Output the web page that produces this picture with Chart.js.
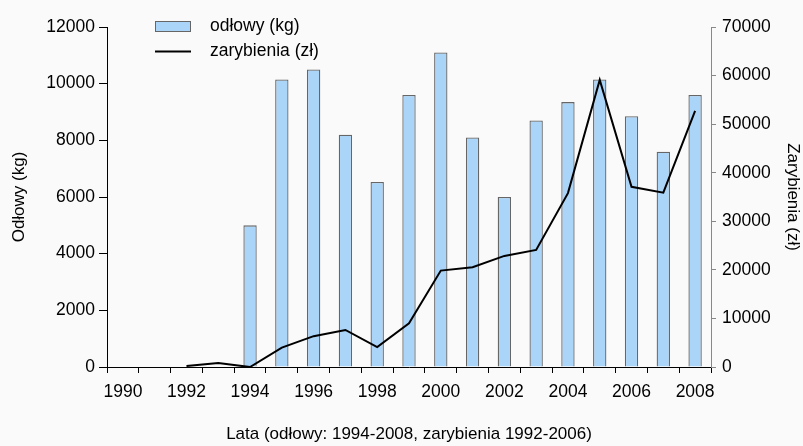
<!DOCTYPE html>
<html>
<head>
<meta charset="utf-8">
<script src="https://cdn.jsdelivr.net/npm/chart.js@4.4.1/dist/chart.umd.min.js"></script>
<style>
  html, body { margin: 0; padding: 0; background: #fafafa; }
  #wrap { width: 803px; height: 446px; position: relative; background: #fafafa; }
</style>
</head>
<body>
<div id="wrap"><canvas id="c"></canvas></div>
<script>
const years = ['1990','1991','1992','1993','1994','1995','1996','1997','1998','1999','2000','2001','2002','2003','2004','2005','2006','2007','2008'];
const odlowy = [null, null, null, null, 5000, 10150, 10500, 8200, 6530, 9600, 11100, 8100, 6000, 8700, 9350, 10150, 8850, 7600, 9600];
const zarybienia = [null, null, 200, 800, 0, 4000, 6350, 7620, 4100, 9000, 19850, 20540, 22870, 24100, 35800, 59100, 37100, 35900, 52750];
const leftTicks = [0, 2000, 4000, 6000, 8000, 10000, 12000];
const rightTicks = [0, 10000, 20000, 30000, 40000, 50000, 60000, 70000];
const seriesLabels = ['odłowy (kg)', 'zarybienia (zł)'];
const axisTitles = { x: 'Lata (odłowy: 1994-2008, zarybienia 1992-2006)', y: 'Odłowy (kg)', y2: 'Zarybienia (zł)' };

const FONT = "'Liberation Sans', Arial, Helvetica, sans-serif";
Chart.defaults.font.family = FONT;
Chart.defaults.color = '#000';

const BAR_FILL = '#aad4f8';
const BAR_EDGE = '#666666';

const legendPlugin = {
  id: 'insideLegend',
  afterDraw(chart) {
    const ctx = chart.ctx;
    ctx.save();
    ctx.font = "17.5px " + FONT;
    ctx.textBaseline = 'middle';
    ctx.fillStyle = BAR_FILL;
    ctx.fillRect(155.5, 21.5, 35, 10);
    ctx.strokeStyle = BAR_EDGE;
    ctx.lineWidth = 1;
    ctx.strokeRect(155.5, 21.5, 35, 10);
    ctx.fillStyle = '#000';
    ctx.fillText(chart.data.datasets[1].label, 210, 26);
    ctx.beginPath();
    ctx.strokeStyle = '#000';
    ctx.lineWidth = 2;
    ctx.moveTo(155, 51.5);
    ctx.lineTo(191, 51.5);
    ctx.stroke();
    ctx.fillText(chart.data.datasets[0].label, 210, 51);
    ctx.restore();
  }
};

const plain = v => String(v);

new Chart(document.getElementById('c'), {
  data: {
    labels: years,
    datasets: [
      {
        type: 'line',
        label: seriesLabels[1],
        data: zarybienia,
        yAxisID: 'y2',
        borderColor: '#000',
        borderWidth: 2,
        pointRadius: 0,
        tension: 0,
        fill: false,
        order: 0
      },
      {
        type: 'bar',
        label: seriesLabels[0],
        data: odlowy,
        yAxisID: 'y',
        backgroundColor: BAR_FILL,
        borderColor: BAR_EDGE,
        borderWidth: 1.3,
        categoryPercentage: 1,
        barPercentage: 0.42,
        order: 1
      }
    ]
  },
  options: {
    responsive: true,
    maintainAspectRatio: false,
    animation: false,
    layout: { padding: { top: 27, left: 0, right: 0, bottom: 0 } },
    plugins: { legend: { display: false }, tooltip: { enabled: false } },
    scales: {
      x: {
        type: 'category',
        offset: true,
        grid: { offset: true, drawOnChartArea: false, drawTicks: true, tickLength: 6, color: '#000' },
        border: { color: '#000', width: 1 },
        ticks: {
          autoSkip: false, maxRotation: 0, minRotation: 0, padding: 9,
          font: { size: 17.5 }, color: '#000',
          callback: function(v, i) { return i % 2 === 0 ? years[i] : ''; }
        },
        title: { display: true, text: axisTitles.x, font: { size: 17 }, padding: { top: 0, bottom: 1 } },
        afterFit(s) { s.height = 79; }
      },
      y: {
        position: 'left',
        min: 0, max: 12000,
        afterBuildTicks(s) { s.ticks = leftTicks.map(v => ({ value: v })); },
        grid: { drawOnChartArea: false, drawTicks: true, tickLength: 8, color: '#000' },
        border: { color: '#000', width: 1 },
        ticks: { padding: 4, font: { size: 17.5 }, color: '#000', callback: plain },
        title: { display: true, text: axisTitles.y, font: { size: 17 }, padding: { top: 9, bottom: 0 } },
        afterFit(s) { s.width = 107; }
      },
      y2: {
        position: 'right',
        min: 0, max: 70000,
        afterBuildTicks(s) { s.ticks = rightTicks.map(v => ({ value: v })); },
        grid: { drawOnChartArea: false, drawTicks: true, tickLength: 5, color: '#888' },
        border: { color: '#888', width: 1 },
        ticks: { padding: 6, font: { size: 17.5 }, color: '#000', callback: plain },
        title: { display: true, text: axisTitles.y2, font: { size: 17 }, padding: { top: 0, bottom: 0 } },
        afterFit(s) { s.width = 92; }
      }
    }
  },
  plugins: [legendPlugin]
});
</script>
</body>
</html>
